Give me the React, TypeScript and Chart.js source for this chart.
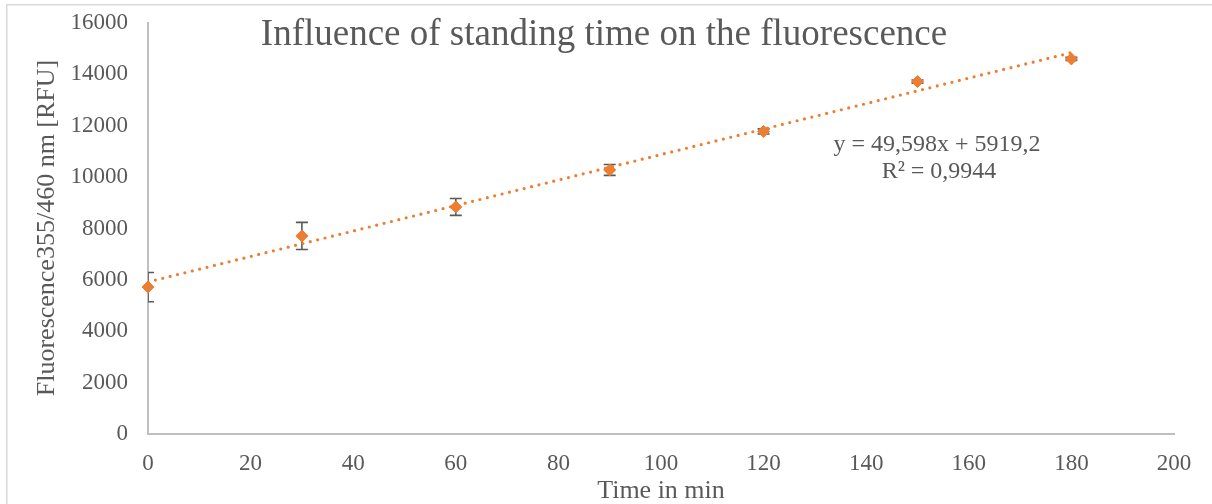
import React, { useEffect, useRef } from "react";
import { Chart, registerables } from "chart.js";

Chart.register(...registerables);

// Standing time (min) and measured fluorescence (RFU) with standard deviations
const timeMin = [0, 30, 60, 90, 120, 150, 180];
const fluorescence = [5720, 7710, 8840, 10280, 11780, 13720, 14600];
const stdDev = [570, 530, 330, 210, 100, 60, 60];

// Linear trendline parameters as stated in the equation label
const slope = 49.598;
const intercept = 5919.2;
const equationLines = ["y = 49,598x + 5919,2", "R² = 0,9944"];

const titleText = "Influence of standing time on the fluorescence";
const xTitle = "Time in min";
const yTitle = "Fluorescence355/460 nm [RFU]";

const SERIF = "'Liberation Serif', 'Times New Roman', serif";
const TEXT = "#595959";
const ORANGE = "#ED7D31";
const AXIS = "#BFBFBF";

const decorations = {
  id: "decorations",
  beforeDraw(chart: any) {
    const { ctx } = chart;
    ctx.save();
    ctx.fillStyle = "#ffffff";
    ctx.fillRect(0, 0, chart.width, chart.height);
    ctx.fillStyle = "#D9D9D9";
    ctx.fillRect(6, 4, chart.width, 1.5);
    ctx.fillRect(6, 4, 1.5, chart.height);
    ctx.restore();
  },
  beforeDatasetsDraw(chart: any) {
    const { ctx, chartArea } = chart;
    const xs = chart.scales.x;
    const ys = chart.scales.y;
    ctx.save();
    ctx.beginPath();
    ctx.rect(chartArea.left, chartArea.top - 10, chartArea.right - chartArea.left, chartArea.bottom - chartArea.top + 10);
    ctx.clip();
    ctx.strokeStyle = TEXT;
    ctx.lineWidth = 1.6;
    timeMin.forEach((t, i) => {
      const px = xs.getPixelForValue(t);
      const top = ys.getPixelForValue(fluorescence[i] + stdDev[i]);
      const bot = ys.getPixelForValue(fluorescence[i] - stdDev[i]);
      ctx.beginPath();
      ctx.moveTo(px, top);
      ctx.lineTo(px, bot);
      ctx.moveTo(px - 6, top);
      ctx.lineTo(px + 6, top);
      ctx.moveTo(px - 6, bot);
      ctx.lineTo(px + 6, bot);
      ctx.stroke();
    });
    ctx.restore();
  },
  afterDraw(chart: any) {
    const { ctx, chartArea } = chart;
    ctx.save();
    ctx.fillStyle = TEXT;
    ctx.textAlign = "center";
    ctx.textBaseline = "alphabetic";
    ctx.font = `37px ${SERIF}`;
    ctx.fillText(titleText, 604, 45);

    ctx.font = `24px ${SERIF}`;
    ctx.fillText(equationLines[0], 937, 151);
    ctx.fillText(equationLines[1], 939, 178);

    ctx.font = `26px ${SERIF}`;
    ctx.textBaseline = "middle";
    ctx.fillText(xTitle, (chartArea.left + chartArea.right) / 2, 491);

    ctx.translate(47, 228);
    ctx.rotate(-Math.PI / 2);
    ctx.fillText(yTitle, 0, 0);
    ctx.restore();
  },
};

export default function App() {
  const canvasRef = useRef<HTMLCanvasElement | null>(null);

  useEffect(() => {
    if (!canvasRef.current) return;
    const chart = new Chart(canvasRef.current, {
      type: "scatter",
      data: {
        datasets: [
          {
            type: "scatter",
            label: "Fluorescence",
            data: timeMin.map((t, i) => ({ x: t, y: fluorescence[i] })),
            pointStyle: "rectRot",
            pointRadius: 6,
            pointBackgroundColor: ORANGE,
            pointBorderColor: ORANGE,
            pointBorderWidth: 1,
            clip: false,
            order: 0,
          } as any,
          {
            type: "line",
            label: "Linear trend",
            data: [
              { x: timeMin[0], y: intercept + slope * timeMin[0] },
              { x: timeMin[timeMin.length - 1], y: intercept + slope * timeMin[timeMin.length - 1] },
            ],
            borderColor: ORANGE,
            borderWidth: 3.2,
            borderDash: [0, 7.6],
            borderCapStyle: "round",
            pointRadius: 0,
            fill: false,
            order: 1,
          } as any,
        ],
      },
      options: {
        animation: false,
        responsive: false,
        maintainAspectRatio: false,
        layout: { padding: { left: 0, top: 23, right: 38, bottom: 0 } },
        plugins: {
          legend: { display: false },
          title: { display: false },
          tooltip: { enabled: false },
        },
        scales: {
          x: {
            type: "linear",
            min: 0,
            max: 200,
            ticks: {
              stepSize: 20,
              color: TEXT,
              font: { family: "Liberation Serif", size: 23 },
              padding: 16,
              callback: (v: any) => String(v),
            },
            grid: { display: false, drawTicks: false },
            border: { display: true, color: AXIS, width: 2 },
            afterFit: (scale: any) => {
              scale.height = 70;
              scale.paddingLeft = 0;
              scale.paddingRight = 0;
            },
          },
          y: {
            type: "linear",
            min: 0,
            max: 16000,
            ticks: {
              stepSize: 2000,
              color: TEXT,
              font: { family: "Liberation Serif", size: 23 },
              padding: 20,
              callback: (v: any) => String(v),
            },
            grid: { display: false, drawTicks: false },
            border: { display: true, color: AXIS, width: 2 },
            afterFit: (scale: any) => {
              scale.width = 148;
              scale.paddingTop = 0;
              scale.paddingBottom = 0;
            },
          },
        },
      },
      plugins: [decorations],
    });
    return () => chart.destroy();
  }, []);

  return (
    <div style={{ position: "absolute", left: 0, top: 0, width: 1212, height: 504 }}>
      <canvas ref={canvasRef} width={1212} height={504} style={{ width: 1212, height: 504, display: "block" }} />
    </div>
  );
}
